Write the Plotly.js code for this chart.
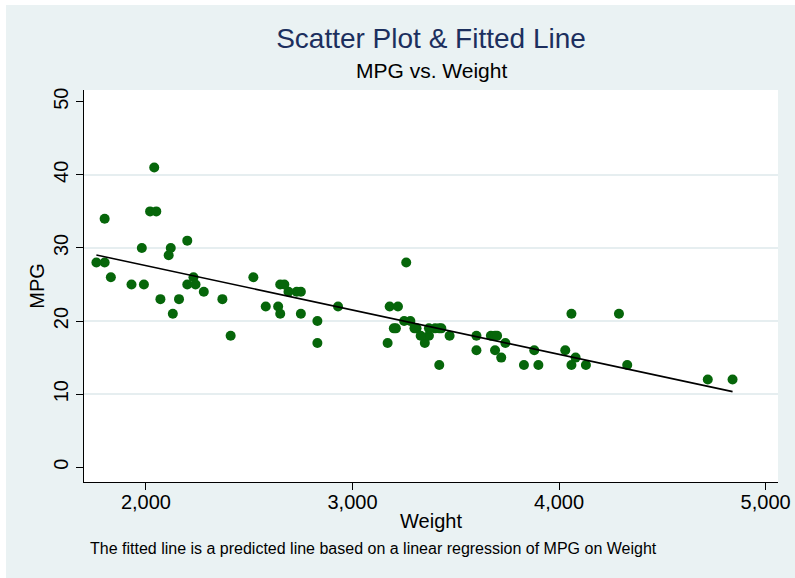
<!DOCTYPE html>
<html>
<head>
<meta charset="utf-8">
<script src="https://cdn.plot.ly/plotly-3.0.1.min.js"></script>
<style>
  html, body { margin: 0; padding: 0; background: #ffffff; }
  #chart { position: absolute; left: 6px; top: 5px; width: 789px; height: 573px; }
</style>
</head>
<body>
<div id="chart"></div>
<script>
// Auto data: weight (lbs) and mileage (mpg)
const weight = [2930,3350,2640,3250,4080,3670,2230,3280,3880,3400,4330,3900,4290,2110,3690,3180,3220,2750,3430,2120,3600,3600,3740,1800,2650,4840,4720,3830,2580,4060,3720,3370,4130,2830,4060,3310,3300,3690,3370,2730,4030,3260,1800,2200,2520,3330,3700,3470,3210,3200,3420,2690,2830,2070,2650,2370,2020,2280,2750,2130,2240,1760,1980,3420,1830,2050,2410,2200,2670,2160,2040,1930,1990,3170];
const mpg    = [22,17,22,20,15,18,26,20,16,19,14,14,21,29,16,22,22,24,19,30,18,16,17,28,21,12,12,14,22,14,15,18,14,20,21,19,19,18,19,24,16,28,34,25,26,18,18,18,19,19,19,24,17,23,25,23,35,24,21,21,25,28,30,14,26,35,18,31,25,23,41,25,25,17];

const xTickVals = [2000, 3000, 4000, 5000];
const yTickVals = [0, 10, 20, 30, 40, 50];
const yGridVals = [10, 20, 30, 40];

// Linear regression of mpg on weight (fitted line over the data range)
const n = weight.length;
const mx = weight.reduce((a, b) => a + b, 0) / n;
const my = mpg.reduce((a, b) => a + b, 0) / n;
let sxy = 0, sxx = 0;
for (let i = 0; i < n; i++) { sxy += (weight[i] - mx) * (mpg[i] - my); sxx += (weight[i] - mx) ** 2; }
const slope = sxy / sxx;
const intercept = my - slope * mx;
const fitX = [Math.min(...weight), Math.max(...weight)];
const fitY = fitX.map(x => intercept + slope * x);

const FONT = "Liberation Sans, Arial, Helvetica, sans-serif";

const traces = [
  {
    type: 'scatter', mode: 'markers', x: weight, y: mpg, name: 'MPG',
    marker: { color: '#06660a', size: 10, line: { width: 0 } },
    hoverinfo: 'x+y'
  },
  {
    type: 'scatter', mode: 'lines', x: fitX, y: fitY, name: 'Fitted values',
    line: { color: '#000000', width: 1.6 }
  }
];

const layout = {
  width: 789, height: 573,
  margin: { l: 78, r: 17, t: 85, b: 96 },
  paper_bgcolor: '#eaf2f3',
  plot_bgcolor: '#ffffff',
  showlegend: false,
  font: { family: FONT, color: '#000000', size: 20 },
  title: {
    text: 'Scatter Plot & Fitted Line',
    font: { family: FONT, size: 28, color: '#1c2f5e' },
    x: 0.5, xref: 'paper', xanchor: 'center',
    y: 1 - 33.3 / 573, yref: 'container', yanchor: 'middle'
  },
  xaxis: {
    range: [1700, 5060],
    tickmode: 'array', tickvals: xTickVals, tickformat: ',d',
    ticks: 'outside', ticklen: 7, tickwidth: 1, tickcolor: '#000000',
    ticklabelstandoff: -5,
    showline: true, linecolor: '#000000', linewidth: 1,
    showgrid: false, zeroline: false,
    tickfont: { family: FONT, size: 20, color: '#000000' },
    title: { text: 'Weight', font: { family: FONT, size: 20, color: '#000000' }, standoff: 1 }
  },
  yaxis: {
    range: [-2.01, 51.6],
    tickmode: 'array', tickvals: yTickVals,
    tickangle: -90,
    ticks: 'outside', ticklen: 7, tickwidth: 1, tickcolor: '#000000',
    showline: true, linecolor: '#000000', linewidth: 1,
    showgrid: false, zeroline: false,
    minor: { tickmode: 'array', tickvals: yGridVals, ticks: '', showgrid: true, gridcolor: '#e6eef0', gridwidth: 1.5 },
    tickfont: { family: FONT, size: 20, color: '#000000' },
    title: { text: 'MPG', font: { family: FONT, size: 20, color: '#000000' }, standoff: 0 }
  },
  annotations: [
    {
      text: 'MPG vs. Weight', xref: 'paper', yref: 'paper',
      x: 0.5, y: (477 - 65.8) / 392, xanchor: 'center', yanchor: 'middle',
      showarrow: false, font: { family: FONT, size: 21, color: '#000000' }
    },
    {
      text: 'The fitted line is a predicted line based on a linear regression of MPG on Weight',
      xref: 'paper', yref: 'paper',
      x: (82 - 78) / 694, y: (477 - 543) / 392, xanchor: 'left', yanchor: 'middle',
      showarrow: false, font: { family: FONT, size: 16, color: '#000000' }
    }
  ]
};

Plotly.newPlot('chart', traces, layout, { displayModeBar: false, staticPlot: true });
</script>
</body>
</html>
